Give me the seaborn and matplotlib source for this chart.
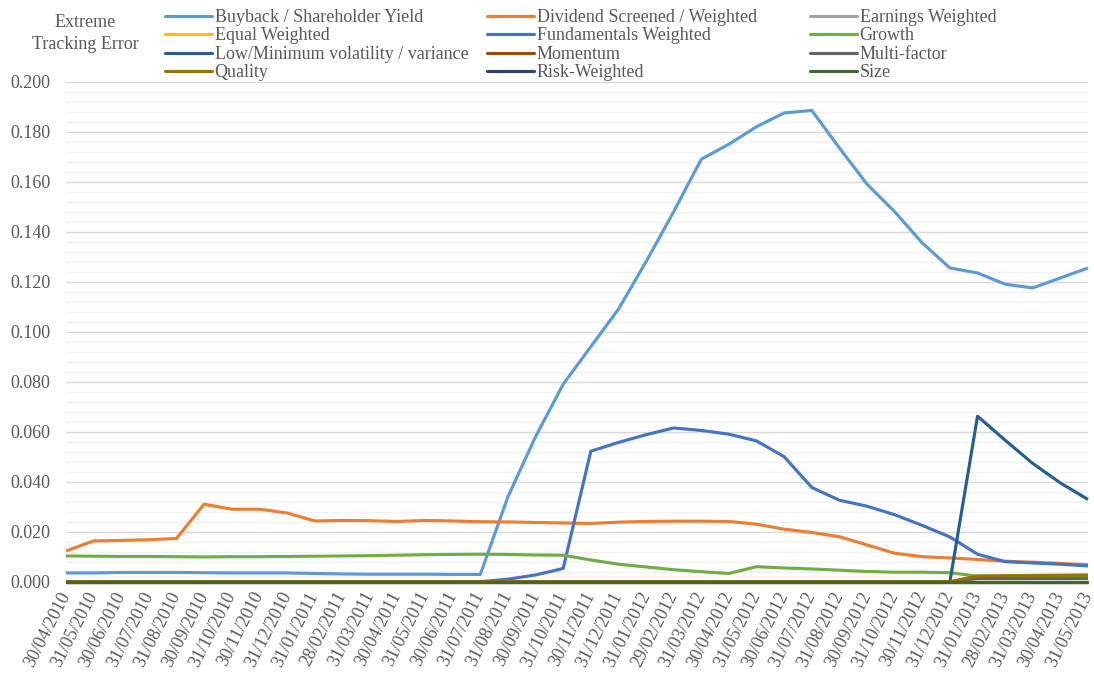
import numpy as np
import pandas as pd
import matplotlib
matplotlib.use("Agg")
import matplotlib.pyplot as plt
from matplotlib.lines import Line2D
from matplotlib.ticker import MultipleLocator
import seaborn as sns

# Month-end observation dates
dates = [
    "30/04/2010", "31/05/2010", "30/06/2010", "31/07/2010", "31/08/2010", "30/09/2010",
    "31/10/2010", "30/11/2010", "31/12/2010", "31/01/2011", "28/02/2011", "31/03/2011",
    "30/04/2011", "31/05/2011", "30/06/2011", "31/07/2011", "31/08/2011", "30/09/2011",
    "31/10/2011", "30/11/2011", "31/12/2011", "31/01/2012", "29/02/2012", "31/03/2012",
    "30/04/2012", "31/05/2012", "30/06/2012", "31/07/2012", "31/08/2012", "30/09/2012",
    "31/10/2012", "30/11/2012", "31/12/2012", "31/01/2013", "28/02/2013", "31/03/2013",
    "30/04/2013", "31/05/2013",
]

buyback = [
    0.0035, 0.0035, 0.0037, 0.0037, 0.0037, 0.0036, 0.0035, 0.0035, 0.0035, 0.0033,
    0.0031, 0.0030, 0.0030, 0.0030, 0.0029, 0.0029, 0.0340, 0.0580, 0.0790, 0.0940,
    0.1090, 0.1280, 0.1480, 0.1690, 0.1750, 0.1820, 0.1875, 0.1885, 0.1735, 0.1590,
    0.1480, 0.1355, 0.1255, 0.1235, 0.1190, 0.1175, 0.1215, 0.1255,
]
dividend = [
    0.0123, 0.0163, 0.0165, 0.0168, 0.0173, 0.0310, 0.0290, 0.0290, 0.0275, 0.0243,
    0.0245, 0.0244, 0.0241, 0.0245, 0.0243, 0.0240, 0.0239, 0.0237, 0.0235, 0.0233,
    0.0238, 0.0241, 0.0242, 0.0242, 0.0241, 0.0230, 0.0210, 0.0197, 0.0180, 0.0147,
    0.0114, 0.0100, 0.0095, 0.0089, 0.0082, 0.0078, 0.0073, 0.0068,
]
earnings = [0.0] * 38
equal = [0.0] * 38
fundamentals = [
    0.0, 0.0, 0.0, 0.0, 0.0, 0.0, 0.0, 0.0, 0.0, 0.0,
    0.0, 0.0, 0.0, 0.0, 0.0, 0.0, 0.0010, 0.0027, 0.0053, 0.0522,
    0.0557, 0.0588, 0.0615, 0.0605, 0.0590, 0.0563, 0.0500, 0.0377, 0.0326, 0.0302,
    0.0268, 0.0225, 0.0179, 0.0110, 0.0080, 0.0075, 0.0070, 0.0063,
]
growth = [
    0.0103, 0.0102, 0.0101, 0.0101, 0.0100, 0.0099, 0.0100, 0.0100, 0.0101, 0.0102,
    0.0103, 0.0104, 0.0106, 0.0108, 0.0109, 0.0110, 0.0109, 0.0107, 0.0106, 0.0087,
    0.0070, 0.0059, 0.0048, 0.0040, 0.0033, 0.0060, 0.0055, 0.0051, 0.0046, 0.0041,
    0.0038, 0.0038, 0.0036, 0.0022, 0.0022, 0.0022, 0.0022, 0.0022,
]
low_vol = [0.0] * 33 + [0.0662, 0.0566, 0.0473, 0.0395, 0.0329]
momentum = [0.0] * 38
multi_factor = [0.0] * 33 + [0.0013, 0.0013, 0.0013, 0.0013, 0.0013]
quality = [0.0] * 33 + [0.0023, 0.0024, 0.0025, 0.0026, 0.0027]
risk_weighted = [0.0] * 38
size = [0.0] * 38

series_names = [
    "Buyback / Shareholder Yield", "Dividend Screened / Weighted", "Earnings Weighted",
    "Equal Weighted", "Fundamentals Weighted", "Growth",
    "Low/Minimum volatility / variance", "Momentum", "Multi-factor",
    "Quality", "Risk-Weighted", "Size",
]
series_values = [
    buyback, dividend, earnings, equal, fundamentals, growth,
    low_vol, momentum, multi_factor, quality, risk_weighted, size,
]
colors = [
    "#5B9BD5", "#ED7D31", "#A5A5A5", "#FFC000", "#4472C4", "#70AD47",
    "#255E91", "#9E480E", "#636363", "#997300", "#264478", "#43682B",
]

frames = []
for name, vals in zip(series_names, series_values):
    frames.append(pd.DataFrame({"pos": np.arange(len(dates)), "value": vals, "series": name}))
df = pd.concat(frames, ignore_index=True)

sns.set_style("white")
plt.rcParams["font.family"] = ["Liberation Serif", "DejaVu Serif"]

W, H = 1094, 675
fig = plt.figure(figsize=(W / 100, H / 100), dpi=100)
ax = fig.add_axes([66 / W, 1 - 581.7 / H, (1088 - 66) / W, (581.7 - 81.7) / H])

sns.lineplot(
    data=df, x="pos", y="value", hue="series", hue_order=series_names,
    palette=colors, linewidth=2.25, legend=False, ax=ax, sort=False,
)
for i, line in enumerate(ax.get_lines()):
    line.set_solid_capstyle("butt")
    line.set_solid_joinstyle("round")
    line.set_clip_on(False)
    line.set_zorder(3 + i * 0.01)

text_color = "#595959"
ax.set_xlim(0, len(dates) - 1)
ax.set_ylim(0, 0.2)
ax.yaxis.set_minor_locator(MultipleLocator(0.004))
ax.set_yticks(np.arange(0, 0.2001, 0.02))
ax.set_yticklabels([f"{v:.3f}" for v in np.arange(0, 0.2001, 0.02)], color=text_color, fontsize=13)
ax.set_xticks(np.arange(len(dates)))
ax.set_xticklabels(dates, rotation=63, ha="right", va="center", rotation_mode="anchor",
                   color=text_color, fontsize=13)
ax.tick_params(axis="y", which="both", length=0, pad=11)
ax.tick_params(axis="x", length=5, width=0.8, color="#D9D9D9", direction="out", pad=3)
ax.grid(which="major", axis="y", color="#D9D9D9", linewidth=1.0)
ax.grid(which="minor", axis="y", color="#F2F2F2", linewidth=1.0)
ax.grid(which="major", axis="x", visible=False)
ax.set_axisbelow(True)
for side in ["top", "right", "left"]:
    ax.spines[side].set_visible(False)
ax.spines["bottom"].set_color("#D9D9D9")
ax.set_xlabel("")
ax.set_ylabel("")

fig.text(85 / W, 1 - 33.5 / H, "Extreme\nTracking Error", ha="center", va="center",
         fontsize=13, color=text_color, linespacing=1.4)

# Legend laid out row by row in three columns
col_x = [165, 487, 810]
for c in range(3):
    handles = []
    labels = []
    for r in range(4):
        k = r * 3 + c
        handles.append(Line2D([0], [0], color=colors[k], linewidth=2.25))
        labels.append(series_names[k])
    fig.legend(
        handles, labels, loc="upper left", bbox_to_anchor=(col_x[c] / W, 1 - 9 / H),
        frameon=False, fontsize=13, handlelength=2.6, handletextpad=0.15,
        labelspacing=0.08, borderpad=0, borderaxespad=0, labelcolor=text_color,
    )

fig.savefig("out.png", dpi=100)
